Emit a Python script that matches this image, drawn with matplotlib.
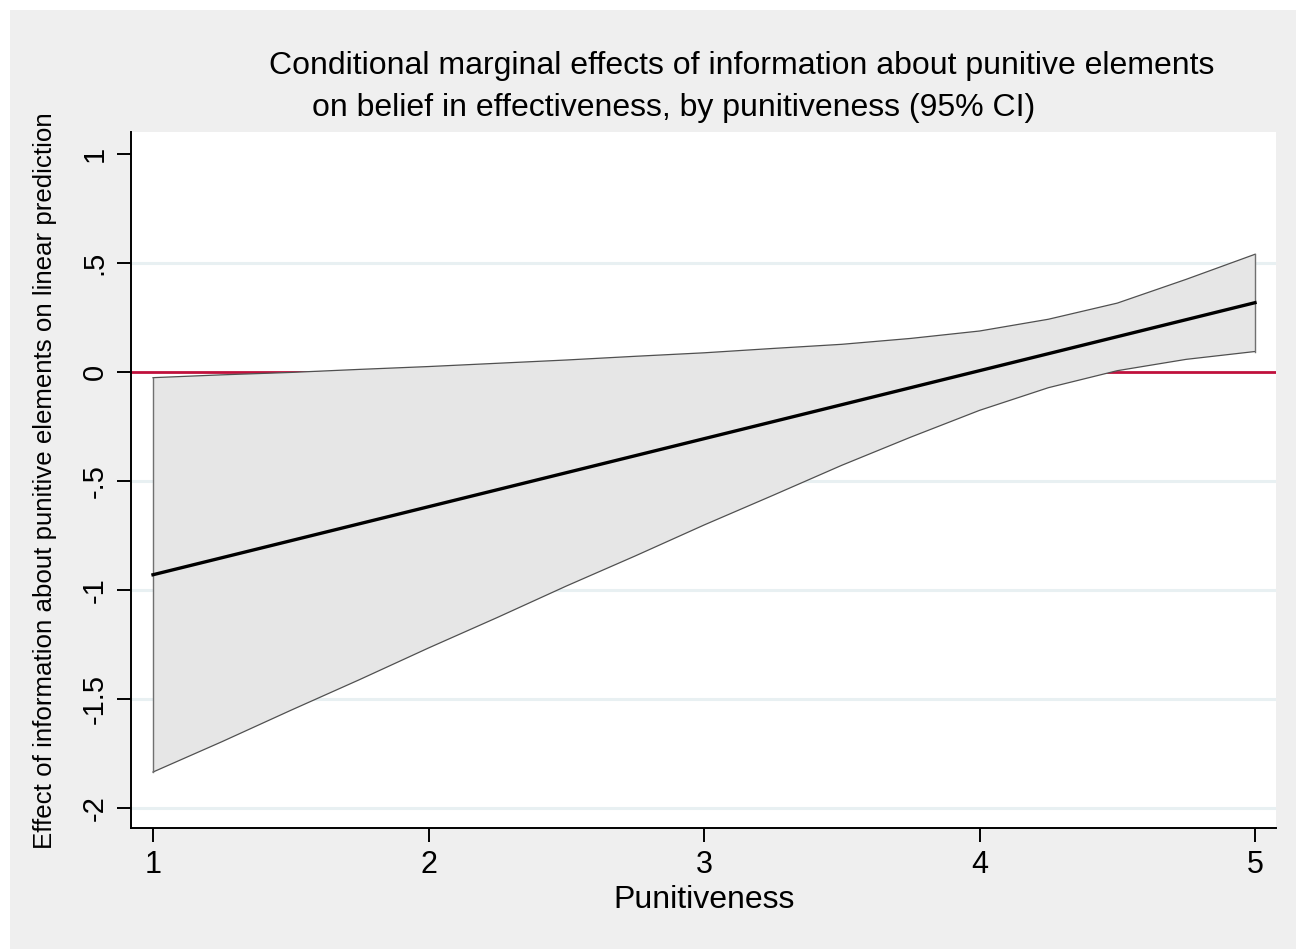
import matplotlib
matplotlib.use("Agg")
import matplotlib.pyplot as plt
from matplotlib.patches import Rectangle

# Data
punitiveness = [1.0, 1.25, 1.5, 1.75, 2.0, 2.25, 2.5, 2.75, 3.0,
                3.25, 3.5, 3.75, 4.0, 4.25, 4.5, 4.75, 5.0]
effect = [-0.930, -0.852, -0.774, -0.696, -0.618, -0.540, -0.462, -0.384, -0.306,
          -0.228, -0.150, -0.072, 0.006, 0.084, 0.162, 0.240, 0.318]
ci_upper = [-0.026, -0.013, -0.002, 0.012, 0.025, 0.040, 0.055, 0.072, 0.088,
            0.108, 0.127, 0.154, 0.188, 0.242, 0.316, 0.425, 0.540]
ci_lower = [-1.835, -1.696, -1.552, -1.411, -1.266, -1.126, -0.982, -0.844, -0.702,
            -0.566, -0.428, -0.299, -0.176, -0.072, 0.006, 0.058, 0.094]

yticks = [1, 0.5, 0, -0.5, -1, -1.5, -2]
ytick_labels = ["1", ".5", "0", "-.5", "-1", "-1.5", "-2"]
xticks = [1, 2, 3, 4, 5]
xtick_labels = ["1", "2", "3", "4", "5"]

title1 = "Conditional marginal effects of information about punitive elements"
title2 = "on belief in effectiveness, by punitiveness (95% CI)"
ylabel = "Effect of information about punitive elements on linear prediction"
xlabel = "Punitiveness"

plt.rcParams['font.family'] = ['Liberation Sans', 'DejaVu Sans']

W, H = 1296, 949
fig = plt.figure(figsize=(W / 100, H / 100), dpi=100, facecolor='white')
fig.patches.append(Rectangle((10 / W, 0), 1 - 10 / W, 1 - 10 / H,
                             transform=fig.transFigure, facecolor='#efefef',
                             edgecolor='none', zorder=-10))

ax = fig.add_axes([131 / W, 1 - 828 / H, (1276 - 131) / W, (828 - 132) / H])
ax.set_facecolor('white')

# gridlines (not at the top tick)
for yv in yticks:
    if yv != 1 and yv != 0:
        ax.axhline(yv, color='#e8f0f2', lw=2.2, zorder=0)

ax.axhline(0, color='#c0103c', lw=2.0, zorder=1)
ax.fill_between(punitiveness, ci_lower, ci_upper, facecolor='#e6e6e6',
                edgecolor='none', zorder=2)
ax.plot(punitiveness, ci_upper, color='#505050', lw=0.9, zorder=3)
ax.plot(punitiveness, ci_lower, color='#505050', lw=0.9, zorder=3)
ax.plot([punitiveness[0], punitiveness[0]], [ci_lower[0], ci_upper[0]],
        color='#707070', lw=1.0, zorder=3)
ax.plot([punitiveness[-1], punitiveness[-1]], [ci_lower[-1], ci_upper[-1]],
        color='#707070', lw=1.0, zorder=3)
ax.plot(punitiveness, effect, color='black', lw=2.4, zorder=4)

ax.set_xlim(1 - 22 / 275.5, 5 + 21 / 275.5)
ax.set_ylim(-2 - 20 / 218, 1 + 22 / 218)

ax.set_yticks(yticks)
ax.set_yticklabels(ytick_labels, rotation=90, va='center', fontsize=21)
ax.set_xticks(xticks)
ax.set_xticklabels(xtick_labels, fontsize=22)
ax.tick_params(axis='both', direction='out', length=10, width=1.4, color='black', pad=6)

for s in ['top', 'right']:
    ax.spines[s].set_visible(False)
for s in ['left', 'bottom']:
    ax.spines[s].set_linewidth(1.4)
    ax.spines[s].set_color('black')

fig.text(742 / W, 1 - 66 / H, title1, ha='center', va='center', fontsize=23)
fig.text(674 / W, 1 - 108 / H, title2, ha='center', va='center', fontsize=23)
fig.text(45 / W, 1 - 481 / H, ylabel, rotation=90, ha='center', va='center', fontsize=18.6)
fig.text(704 / W, 1 - 900 / H, xlabel, ha='center', va='center', fontsize=23)

fig.savefig("out.png", dpi=100, facecolor=fig.get_facecolor())
